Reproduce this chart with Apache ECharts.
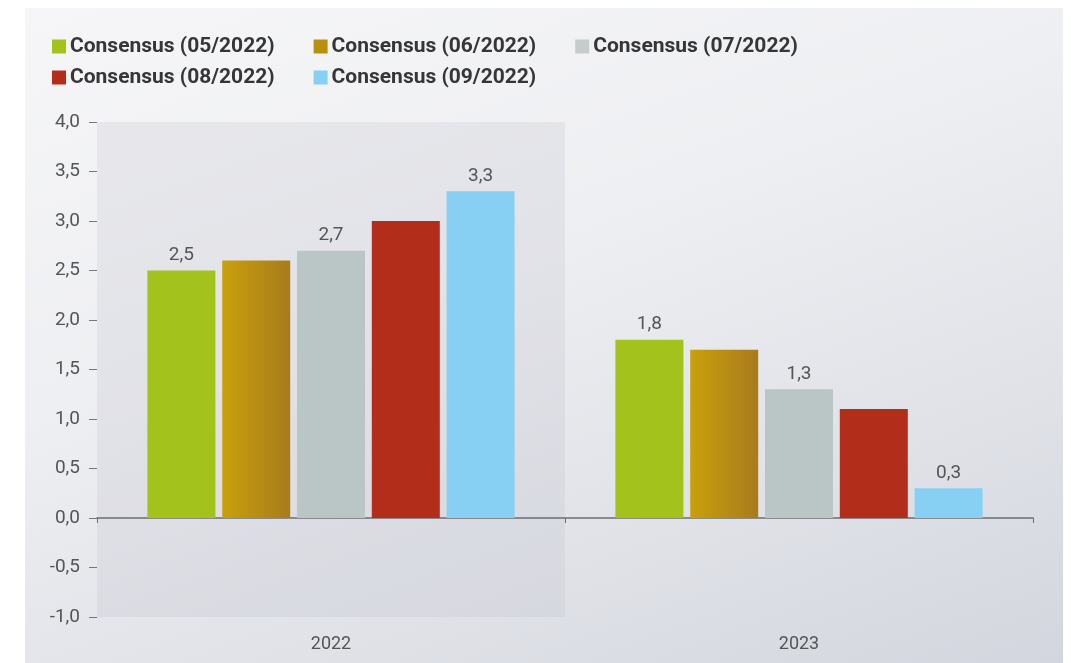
<!DOCTYPE html>
<html>
<head>
<meta charset="utf-8">
<script src="https://cdn.jsdelivr.net/npm/echarts@6/dist/echarts.min.js"></script>
<style>
  html, body { margin: 0; padding: 0; background: #ffffff; }
  #panel {
    position: absolute; left: 25px; top: 8px; width: 1038px; height: 655px;
    background: linear-gradient(160deg, #f6f6f8 0%, #eeeff2 40%, #dfe1e7 75%, #d3d6de 100%);
  }
  #chart { position: absolute; left: 0; top: 0; width: 1071px; height: 663px; }
</style>
</head>
<body>
<div id="panel"></div>
<div id="chart"></div>
<script>
// Growth forecasts by consensus vintage
const years = ['2022', '2023'];
const seriesNames = [
  'Consensus (05/2022)',
  'Consensus (06/2022)',
  'Consensus (07/2022)',
  'Consensus (08/2022)',
  'Consensus (09/2022)'
];
const may2022 = [2.5, 1.8];
const jun2022 = [2.6, 1.7];
const jul2022 = [2.7, 1.3];
const aug2022 = [3.0, 1.1];
const sep2022 = [3.3, 0.3];
const yTicks = [-1.0, -0.5, 0.0, 0.5, 1.0, 1.5, 2.0, 2.5, 3.0, 3.5, 4.0];

const values = [may2022, jun2022, jul2022, aug2022, sep2022];
const labelled = [true, false, true, false, true];
const colors = [
  '#a3c21b',
  { type: 'linear', x: 0, y: 0, x2: 1, y2: 0,
    colorStops: [{ offset: 0, color: '#c9a00c' }, { offset: 1, color: '#a87b1c' }] },
  '#b9c6c5',
  '#b22e1b',
  '#88d0f3'
];
const legendColors = ['#a3c21b', '#b8900f', '#c5cccd', '#b22e1b', '#88d0f3'];

const font = 'Roboto, "Noto Sans", sans-serif';
const comma = v => v.toFixed(1).replace('.', ',');

const chart = echarts.init(document.getElementById('chart'));

const series = values.map((data, i) => ({
  name: seriesNames[i],
  type: 'bar',
  data: data,
  barWidth: 68,
  barGap: '10%',
  itemStyle: { color: colors[i] },
  label: {
    show: labelled[i],
    position: 'top',
    distance: 6,
    color: '#555555',
    fontFamily: font,
    fontSize: 19,
    formatter: p => comma(p.value)
  }
}));

function legendBlock(names, top) {
  return {
    top: top,
    left: 52,
    padding: 0,
    orient: 'horizontal',
    itemWidth: 14,
    itemHeight: 14,
    itemGap: 39,
    icon: 'rect',
    data: names.map(n => ({ name: n, itemStyle: { color: legendColors[seriesNames.indexOf(n)] } })),
    textStyle: {
      fontFamily: font,
      fontSize: 21,
      fontWeight: 'bold',
      color: '#363636',
      padding: [0, 0, 0, -1]
    },
    selectedMode: false
  };
}

chart.setOption({
  backgroundColor: 'transparent',
  animation: false,
  legend: [
    legendBlock(seriesNames.slice(0, 3), 36),
    legendBlock(seriesNames.slice(3), 67)
  ],
  grid: { left: 97, right: 38, top: 122, bottom: 46 },
  xAxis: [
    {
      type: 'category',
      data: years,
      axisLine: { onZero: true, lineStyle: { color: '#6d6d6d', width: 1.5 } },
      axisTick: { show: true, length: 5, lineStyle: { color: '#6d6d6d' } },
      axisLabel: { show: false },
      splitArea: {
        show: true,
        areaStyle: { color: ['rgba(185,188,202,0.22)', 'rgba(0,0,0,0)'] }
      }
    },
    {
      type: 'category',
      data: years,
      position: 'bottom',
      axisLine: { show: false },
      axisTick: { show: false },
      axisLabel: { color: '#555555', fontFamily: font, fontSize: 18, margin: 18 }
    }
  ],
  yAxis: {
    type: 'value',
    min: yTicks[0],
    max: yTicks[yTicks.length - 1],
    interval: 0.5,
    axisLine: { show: false },
    axisTick: { show: true, length: 8, lineStyle: { color: '#777777' } },
    splitLine: { show: false },
    axisLabel: {
      color: '#555555',
      fontFamily: font,
      fontSize: 19,
      margin: 17,
      formatter: v => comma(v)
    }
  },
  series: series
});
</script>
</body>
</html>
